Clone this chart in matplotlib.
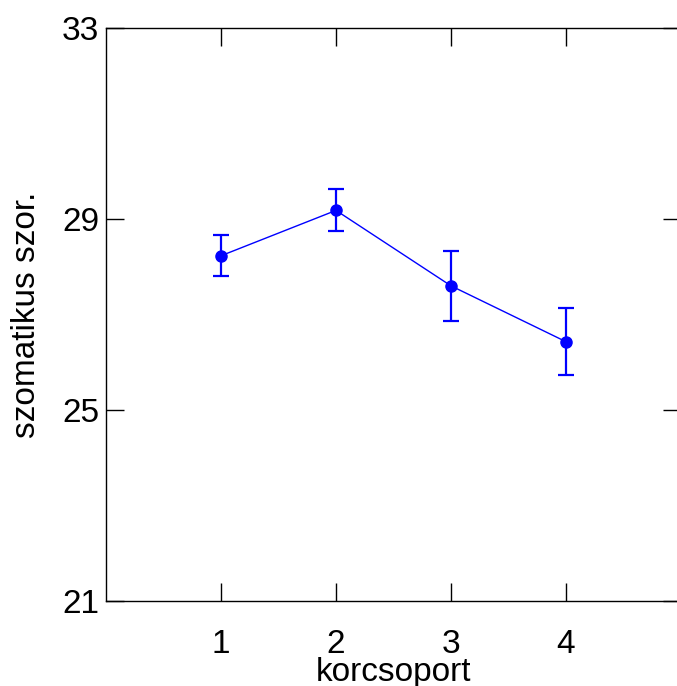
import matplotlib
matplotlib.use("Agg")
import matplotlib.pyplot as plt

plt.rcParams['font.family'] = ['Liberation Sans', 'DejaVu Sans']

korcsoport = [1, 2, 3, 4]
atlag = [28.23, 29.18, 27.60, 26.43]
hiba = [0.43, 0.44, 0.73, 0.70]

fig = plt.figure(figsize=(6.77, 6.86), dpi=100)
ax = fig.add_axes([106/677, 1 - 601/686, 575/677, 573/686])

ax.errorbar(korcsoport, atlag, yerr=hiba, color='#0000ff', marker='o', markersize=8,
            linewidth=1.0, elinewidth=1.6, capsize=5.5, capthick=1.6)

ax.set_xlim(0, 5)
ax.set_ylim(21, 33)
ax.set_xticks(korcsoport)
ax.set_yticks([21, 25, 29, 33])
ax.tick_params(axis='both', direction='in', length=13, width=1, labelsize=24,
               top=True, right=True)
ax.tick_params(axis='x', pad=20)
ax.tick_params(axis='y', pad=5)
for s in ax.spines.values():
    s.set_linewidth(1)
ax.spines['right'].set_visible(False)

ax.set_xlabel('korcsoport', fontsize=24, labelpad=-2)
ax.set_ylabel('szomatikus szor.', fontsize=24, labelpad=14)

fig.savefig('out.png', dpi=100)
